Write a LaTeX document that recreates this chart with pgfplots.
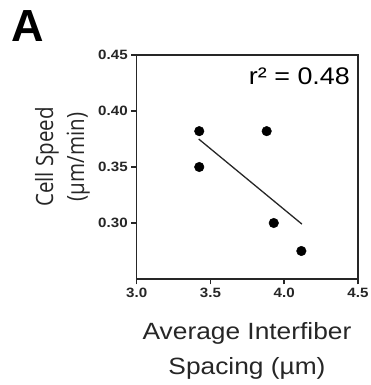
\documentclass[border=0pt]{standalone}
\usepackage{graphicx}
\usepackage{pgfplots}
\pgfplotsset{compat=1.18}
\usepackage{fontspec}
\setmainfont{Liberation Sans}
\newfontfamily\tickfont[FakeStretch=1.12]{Liberation Sans}
\newfontfamily\labfont[FakeStretch=1.12]{Liberation Sans}
\newfontfamily\ylabfont{Open Sans}
\begin{document}
\begin{tikzpicture}
\useasboundingbox (0,0) rectangle (370pt,385pt);
\node[anchor=base west, inner sep=0, font=\fontsize{45}{50}\selectfont\bfseries] at (11pt,343pt) {A};
\begin{axis}[at={(136.7pt,106pt)}, anchor=south west, scale only axis,
  width=221.3pt, height=224pt,
  xmin=3, xmax=4.5, ymin=0.25, ymax=0.45,
  xtick={3,3.5,4,4.5}, ytick={0.30,0.35,0.40,0.45},
  scaled y ticks=false,
  tick align=outside, tick pos=left, major tick length=5.5pt,
  axis line style={line width=1.5pt, black!85},
  every tick/.style={line width=1.5pt, black!85},
  /pgf/number format/assume math mode=true,
  xticklabel style={/pgf/number format/.cd, fixed, fixed zerofill, precision=1},
  yticklabel style={/pgf/number format/.cd, fixed, fixed zerofill, precision=2},
  tick label style={font=\tickfont\bfseries\fontsize{13.5}{15}\selectfont, text=black!85},
  clip=false]
\addplot[only marks, mark=*, mark size=4.8pt, black] coordinates {(3.424,0.382) (3.424,0.350) (3.881,0.382) (3.929,0.300) (4.116,0.275)};
\addplot[black!85, line width=1.3pt] coordinates {(3.42,0.375) (4.12,0.299)};
\node[anchor=base east, font=\labfont\fontsize{24}{28}\selectfont, inner sep=0] at (rel axis cs:0.964,0.8705) {r² = 0.48};
\end{axis}
\node[anchor=base, inner sep=0, font=\labfont\fontsize{23.5}{28}\selectfont, text=black!85] at (247pt,45.7pt) {Average Interfiber};
\node[anchor=base, inner sep=0, font=\labfont\fontsize{23.5}{28}\selectfont, text=black!85] at (247pt,10pt) {Spacing (µm)};
\node[anchor=base, rotate=90, inner sep=0, font=\ylabfont\fontsize{20.5}{24}\selectfont, text=black!85] at (53pt,228pt) {\scalebox{1}[1.16]{Cell Speed}};
\node[anchor=base, rotate=90, inner sep=0, font=\ylabfont\fontsize{20.5}{24}\selectfont, text=black!85] at (84pt,228pt) {\scalebox{1}[1.16]{(µm/min)}};
\end{tikzpicture}
\end{document}
